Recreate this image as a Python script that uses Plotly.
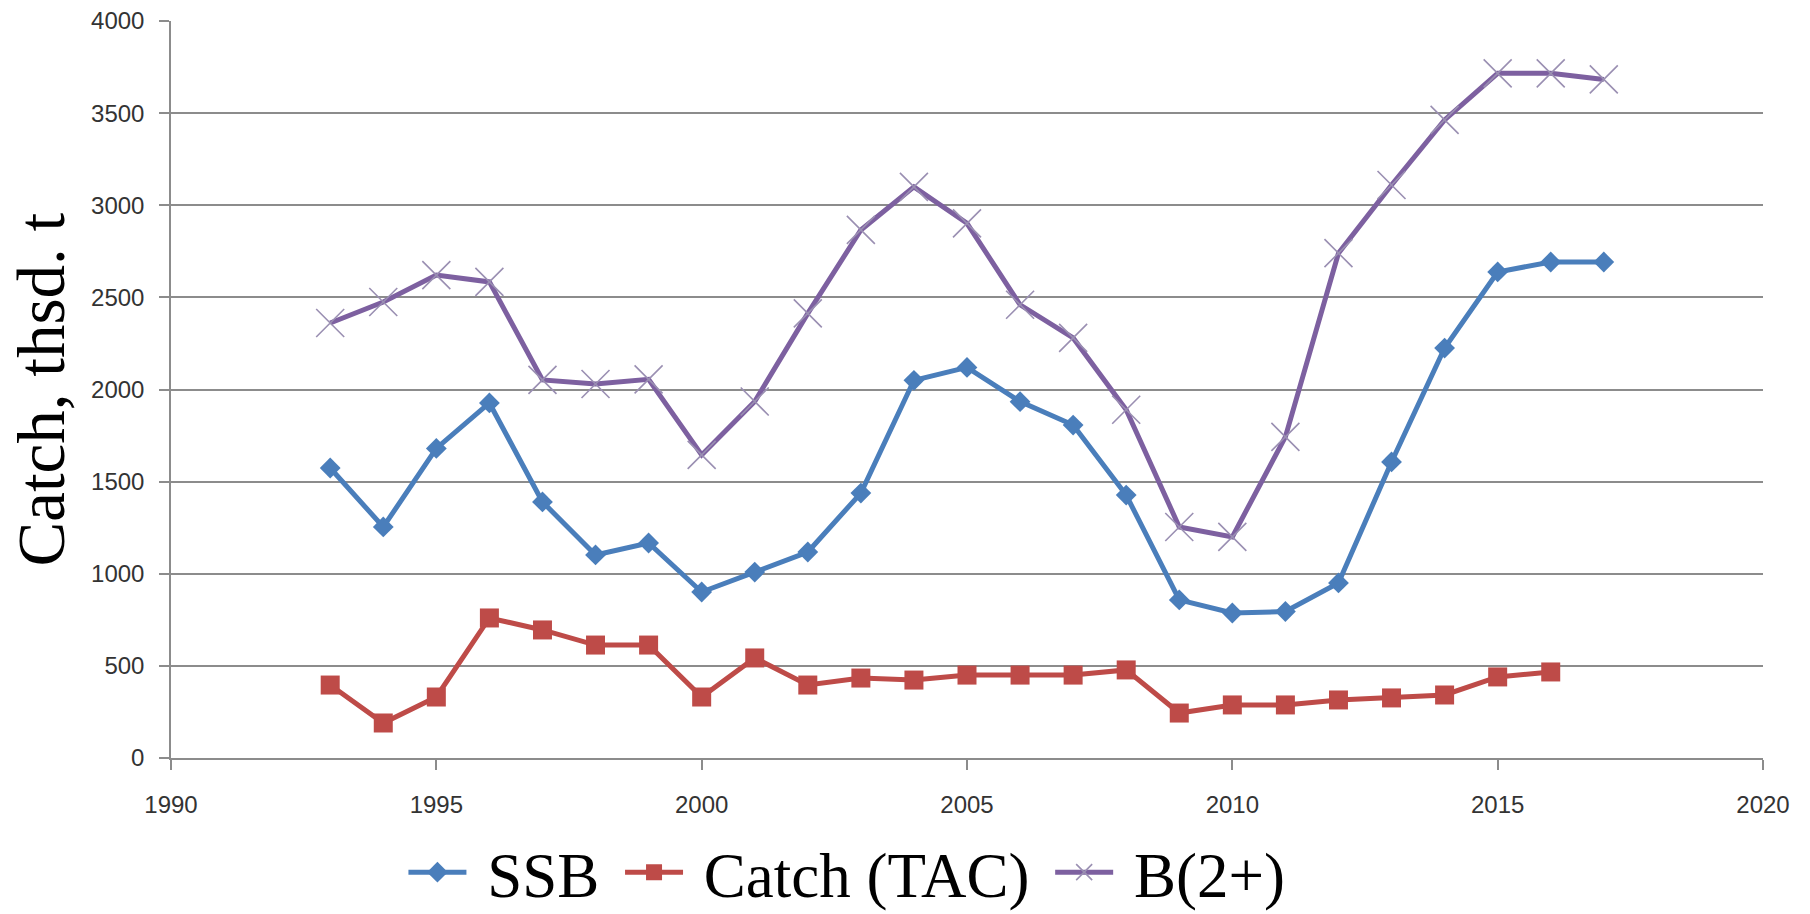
import plotly.graph_objects as go

years = [1993, 1994, 1995, 1996, 1997, 1998, 1999, 2000, 2001, 2002, 2003, 2004, 2005,
         2006, 2007, 2008, 2009, 2010, 2011, 2012, 2013, 2014, 2015, 2016, 2017]
ssb = [1574, 1254, 1680, 1927, 1390, 1102, 1167, 901, 1009, 1118, 1438, 2050, 2120,
       1934, 1807, 1427, 858, 787, 795, 950, 1607, 2225, 2638, 2692, 2692]
catch_tac = [396, 190, 331, 760, 695, 613, 613, 331, 543, 396, 434, 423, 450,
             450, 450, 478, 244, 288, 288, 315, 326, 342, 440, 467]
b2plus = [2361, 2475, 2621, 2584, 2052, 2030, 2055, 1645, 1935, 2413, 2866, 3100, 2902,
          2460, 2280, 1890, 1254, 1200, 1743, 2740, 3110, 3463, 3716, 3716, 3683]

series_names = ["SSB", "Catch (TAC)", "B(2+)"]
y_title = "Catch, thsd. t"
x_ticks = [1990, 1995, 2000, 2005, 2010, 2015, 2020]
y_ticks = [0, 500, 1000, 1500, 2000, 2500, 3000, 3500, 4000]

BLUE = "#4A7EBB"
RED = "#BE4B48"
PURPLE = "#7D60A0"
XMARK = "#9A8FB2"
GRID = "#8C8C8C"
NB = "\u00a0"

fig = go.Figure()
fig.add_trace(go.Scatter(
    x=years, y=ssb, name=NB + series_names[0] + NB, mode="lines+markers",
    line=dict(color=BLUE, width=5),
    marker=dict(symbol="diamond", size=16, color=BLUE, line=dict(width=0)),
))
fig.add_trace(go.Scatter(
    x=years[:len(catch_tac)], y=catch_tac, name=NB + series_names[1] + NB, mode="lines+markers",
    line=dict(color=RED, width=5),
    marker=dict(symbol="square", size=19, color=RED, line=dict(width=0)),
))
fig.add_trace(go.Scatter(
    x=years, y=b2plus, name=NB + series_names[2], mode="lines+markers",
    line=dict(color=PURPLE, width=5),
    marker=dict(symbol="x-thin", size=28, color=XMARK, line=dict(width=1.6, color=XMARK)),
))

fig.update_layout(
    width=1810, height=914,
    margin=dict(l=171, r=47, t=21, b=156, autoexpand=False),
    paper_bgcolor="white", plot_bgcolor="white",
    showlegend=True,
    legend=dict(
        orientation="h", x=0.146, xanchor="left", y=-0.155, yanchor="middle",
        font=dict(family="Liberation Serif, Times New Roman, serif", size=63, color="black"),
        itemwidth=58, bgcolor="rgba(0,0,0,0)", tracegroupgap=0,
    ),
    annotations=[dict(
        text=y_title, xref="paper", yref="paper", x=0, y=0.5, xshift=-131,
        xanchor="center", yanchor="middle", textangle=-90, showarrow=False,
        font=dict(family="Liberation Serif, Times New Roman, serif", size=67, color="black"),
    )],
)
fig.update_xaxes(
    range=[1990, 2020], tickvals=x_ticks, showgrid=False, zeroline=False,
    showline=True, linecolor=GRID, linewidth=1.5,
    ticks="outside", ticklen=10, tickcolor=GRID, tickwidth=1.5,
    tickfont=dict(family="Liberation Sans, Arial, sans-serif", size=24, color="#333333"),
    ticklabelstandoff=14,
)
fig.update_yaxes(
    range=[0, 4000], tickvals=y_ticks, showgrid=True, gridcolor=GRID, gridwidth=2,
    zeroline=False, showline=True, linecolor=GRID, linewidth=1.5,
    ticks="outside", ticklen=10, tickcolor=GRID, tickwidth=1.5,
    tickfont=dict(family="Liberation Sans, Arial, sans-serif", size=24, color="#333333"),
    ticklabelstandoff=10,
)

fig.write_html("out.html", config={"displayModeBar": False},
               post_script="document.body.style.margin='0';document.body.style.overflow='hidden';")
